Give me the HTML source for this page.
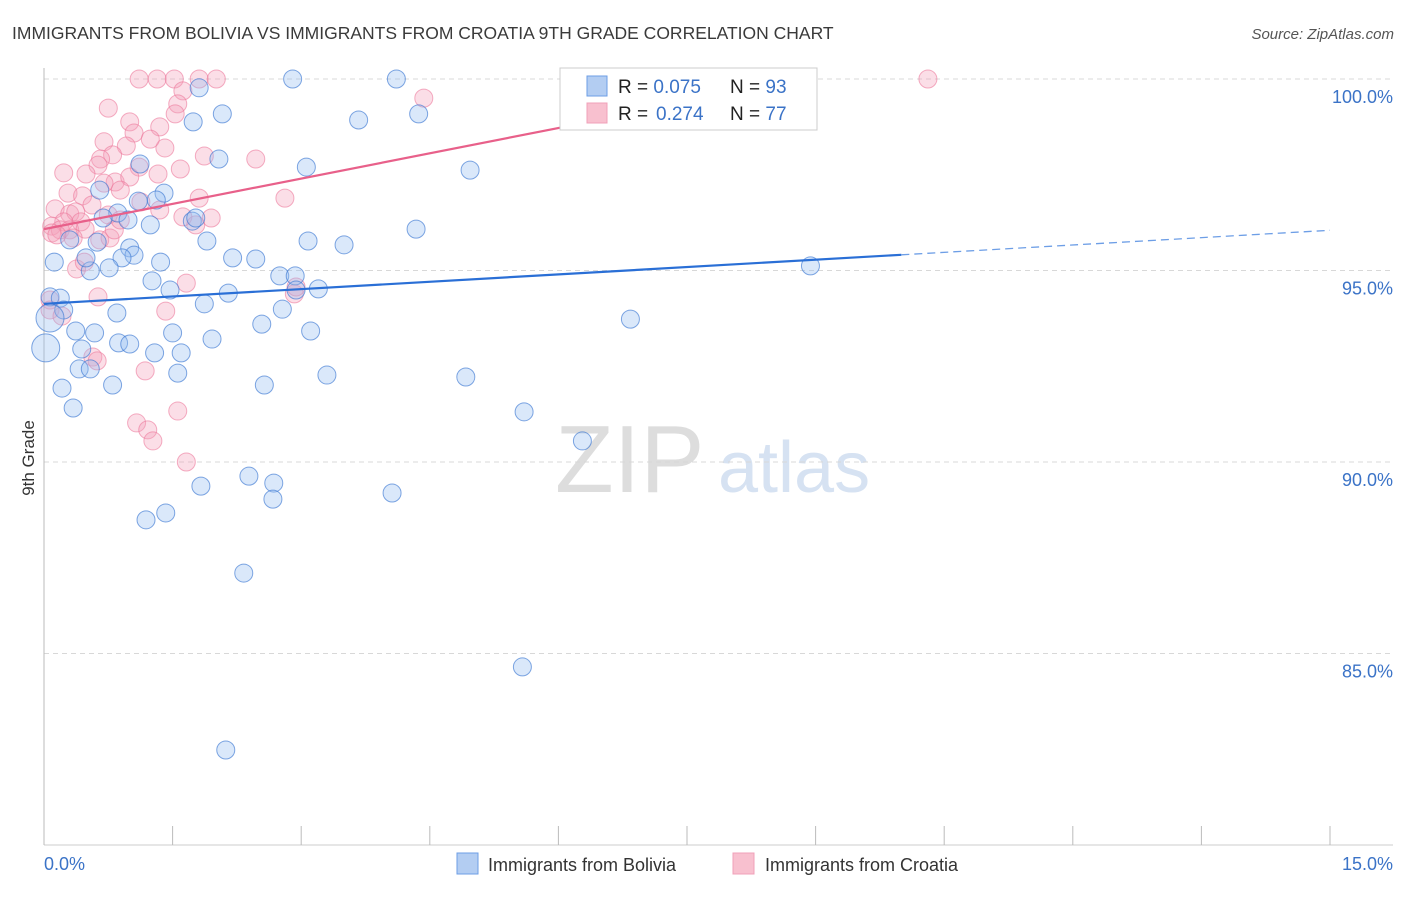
<!DOCTYPE html>
<html><head><meta charset="utf-8"><style>
body{margin:0;background:#fff;font-family:"Liberation Sans",sans-serif;}
svg text{font-family:"Liberation Sans",sans-serif;}
</style></head><body>
<svg id="c" width="1406" height="892">
<text x="12" y="39" font-size="17.5" fill="#3a3a3a">IMMIGRANTS FROM BOLIVIA VS IMMIGRANTS FROM CROATIA 9TH GRADE CORRELATION CHART</text>
<text x="1394" y="39" font-size="15" fill="#555" font-style="italic" text-anchor="end">Source: ZipAtlas.com</text>
<text x="34" y="458" font-size="17" fill="#333" text-anchor="middle" transform="rotate(-90 34 458)">9th Grade</text>
<text x="555" y="492" font-size="96" fill="#ddd" font-family="Liberation Serif">ZIP</text>
<text x="718" y="492" font-size="72" fill="#d6e2f2">atlas</text>
<g id="grid"></g><g id="pts"></g><g id="lines"></g>
<g>
<rect x="560" y="68" width="257" height="62" fill="#fff" stroke="#ccc"/>
<rect x="587" y="76" width="20" height="20" fill="#b3cdf2" stroke="#6d9ee6"/>
<rect x="587" y="103" width="20" height="20" fill="#f8c0cf" stroke="#f0a0b8"/>
<text x="618" y="93" font-size="19" fill="#222">R = <tspan fill="#3b73c7">0.075</tspan><tspan x="730">N = </tspan><tspan fill="#3b73c7">93</tspan></text>
<text x="618" y="120" font-size="19" fill="#222">R = <tspan fill="#3b73c7" x="656">0.274</tspan><tspan x="730">N = </tspan><tspan fill="#3b73c7">77</tspan></text>
</g>
<g>
<rect x="457" y="853" width="21" height="21" fill="#b3cdf2" stroke="#6d9ee6"/>
<text x="488" y="871" font-size="18" fill="#333">Immigrants from Bolivia</text>
<rect x="733" y="853" width="21" height="21" fill="#f8c0cf" stroke="#f0a0b8"/>
<text x="765" y="871" font-size="18" fill="#333">Immigrants from Croatia</text>
</g>
</svg>
<script>
const yTicks=[100,95,90,85];
const yTickLabels=["100.0%","95.0%","90.0%","85.0%"];
const xTickVals=[0,1.5,3,4.5,6,7.5,9,10.5,12,13.5,15];
const xEndLabels=["0.0%","15.0%"];
const boliviaX=[2.90,4.11,1.81,6.45,2.08,4.37,1.74,3.67,2.04,3.06,4.97,1.12,1.40,0.65,1.31,1.10,0.86,0.69,0.98,1.24,1.73,1.77,4.34,1.90,0.62,0.30,3.08,3.50,1.00,0.12,1.05,0.91,0.76,0.54,1.36,2.20,2.47,0.49,2.75,2.93,1.26,2.94,3.20,2.15,1.47,0.07,0.19,1.87,0.85,0.23,2.78,2.54,0.37,1.50,3.11,0.59,0.87,1.00,1.96,0.44,1.29,1.60,0.02,0.07,0.41,0.54,1.56,3.30,4.92,6.84,8.94,0.21,0.80,2.57,0.34,5.60,6.28,2.39,1.83,2.68,4.06,2.67,1.42,1.19,2.33,5.58,2.12];
const boliviaY=[100,100,99.77,99.84,99.09,99.09,98.88,98.93,97.91,97.70,97.62,97.78,97.02,97.10,96.84,96.81,96.50,96.37,96.32,96.19,96.29,96.37,96.08,95.77,95.74,95.80,95.77,95.67,95.59,95.22,95.40,95.33,95.07,94.99,95.22,95.33,95.30,95.33,94.86,94.86,94.73,94.49,94.52,94.41,94.49,94.31,94.28,94.13,93.89,93.97,93.99,93.60,93.42,93.37,93.42,93.37,93.11,93.08,93.21,92.95,92.85,92.85,92.98,93.76,92.43,92.43,92.32,92.27,92.22,93.73,95.12,91.93,92.01,92.01,91.41,91.31,90.55,89.63,89.37,89.45,89.19,89.03,88.67,88.49,87.10,84.65,82.48];
const croatiaX=[1.11,1.32,1.52,1.81,2.01,10.31,1.62,4.43,1.56,0.75,1.53,1.00,1.35,0.70,1.05,0.96,1.41,1.87,2.47,0.80,0.66,0.63,1.59,1.11,0.23,0.49,1.33,0.83,0.70,1.00,0.89,0.28,0.45,1.81,2.81,0.56,1.13,1.35,0.13,0.30,0.37,0.75,1.95,0.43,0.23,0.09,0.19,0.30,0.48,0.65,0.34,0.77,0.09,0.38,0.63,1.66,2.92,1.42,0.07,0.07,0.57,0.62,1.18,1.56,1.08,1.21,1.27,1.66,0.21,0.82,0.47,0.89,1.62,2.94,1.24,1.77,0.15];
const croatiaY=[100,100,100,100,100,100,99.69,99.50,99.35,99.24,99.09,98.88,98.75,98.36,98.59,98.25,98.20,97.99,97.91,98.02,97.91,97.75,97.65,97.70,97.55,97.52,97.52,97.31,97.28,97.44,97.10,97.02,96.95,96.89,96.89,96.71,96.79,96.58,96.61,96.48,96.53,96.45,96.37,96.27,96.27,96.16,96.06,96.06,96.08,95.80,95.85,95.85,95.98,95.04,94.31,94.67,94.39,93.94,94.23,93.97,92.74,92.64,92.38,91.33,91.02,90.84,90.55,90.00,93.81,96.06,95.22,96.32,96.40,94.57,98.43,96.19,95.93];
const boliviaTrend=[94.13,0.128];
const croatiaTrend=[96.08,0.44];
const NS="http://www.w3.org/2000/svg";
const X0=44,X1=1330,YT=79,YB=845;
const sx=v=>X0+(v/15)*(X1-X0);
const sy=v=>YT+(100-v)*38.3;
function mk(tag,attrs,parent){const e=document.createElementNS(NS,tag);for(const k in attrs)e.setAttribute(k,attrs[k]);parent.appendChild(e);return e;}
const grid=document.getElementById('grid');
yTicks.forEach((t,i)=>{
 const l=mk('line',{x1:X0,x2:1393,y1:sy(t),y2:sy(t),stroke:'#d8d8d8','stroke-dasharray':'5,4'},grid);
 
 
 const tx=mk('text',{x:1393,y:sy(t)+24,'font-size':18,fill:'#3b73c7','text-anchor':'end'},grid);
 tx.textContent=yTickLabels[i];
 
 
});
const ax=mk('line',{x1:X0,x2:1393,y1:YB,y2:YB,stroke:'#ccc'},grid);


const ay=mk('line',{x1:X0,x2:X0,y1:68,y2:YB,stroke:'#bbb'},grid);


xTickVals.forEach(t=>{
 const l=mk('line',{x1:sx(t),x2:sx(t),y1:826,y2:YB,stroke:'#bbb'},grid);
 
 
});
const xl0=mk('text',{x:44,y:870,'font-size':18,fill:'#3b73c7'},grid);
xl0.textContent=xEndLabels[0];


const xl1=mk('text',{x:1393,y:870,'font-size':18,fill:'#3b73c7','text-anchor':'end'},grid);
xl1.textContent=xEndLabels[1];


const pts=document.getElementById('pts');
croatiaX.forEach((x,i)=>{
 const c=mk('circle',{cx:sx(x),cy:sy(croatiaY[i]),r:9,fill:'rgba(244,160,185,0.35)',stroke:'rgba(236,120,155,0.6)','stroke-width':1},pts);
 
 
});
boliviaX.forEach((x,i)=>{
 const big=(i===62||i===63);
 const c=mk('circle',{cx:sx(x),cy:sy(boliviaY[i]),r:big?14:9,fill:'rgba(150,190,240,0.35)',stroke:'rgba(60,120,210,0.65)','stroke-width':1},pts);
 
 
});
const lines=document.getElementById('lines');
const bt=x=>boliviaTrend[0]+boliviaTrend[1]*x;
const ct=x=>croatiaTrend[0]+croatiaTrend[1]*x;
const b1=mk('line',{x1:sx(0),y1:sy(bt(0)),x2:sx(10),y2:sy(bt(10)),stroke:'#2a6fd6','stroke-width':2.2},lines);


const b2=mk('line',{x1:sx(10),y1:sy(bt(10)),x2:sx(15),y2:sy(bt(15)),stroke:'#6d9ee6','stroke-width':1.3,'stroke-dasharray':'8,5'},lines);


const xe=(100-croatiaTrend[0])/croatiaTrend[1];
const c1=mk('line',{x1:sx(0),y1:sy(ct(0)),x2:sx(xe),y2:sy(ct(xe)),stroke:'#e8608a','stroke-width':2.2},lines);


</script>
</body></html>
